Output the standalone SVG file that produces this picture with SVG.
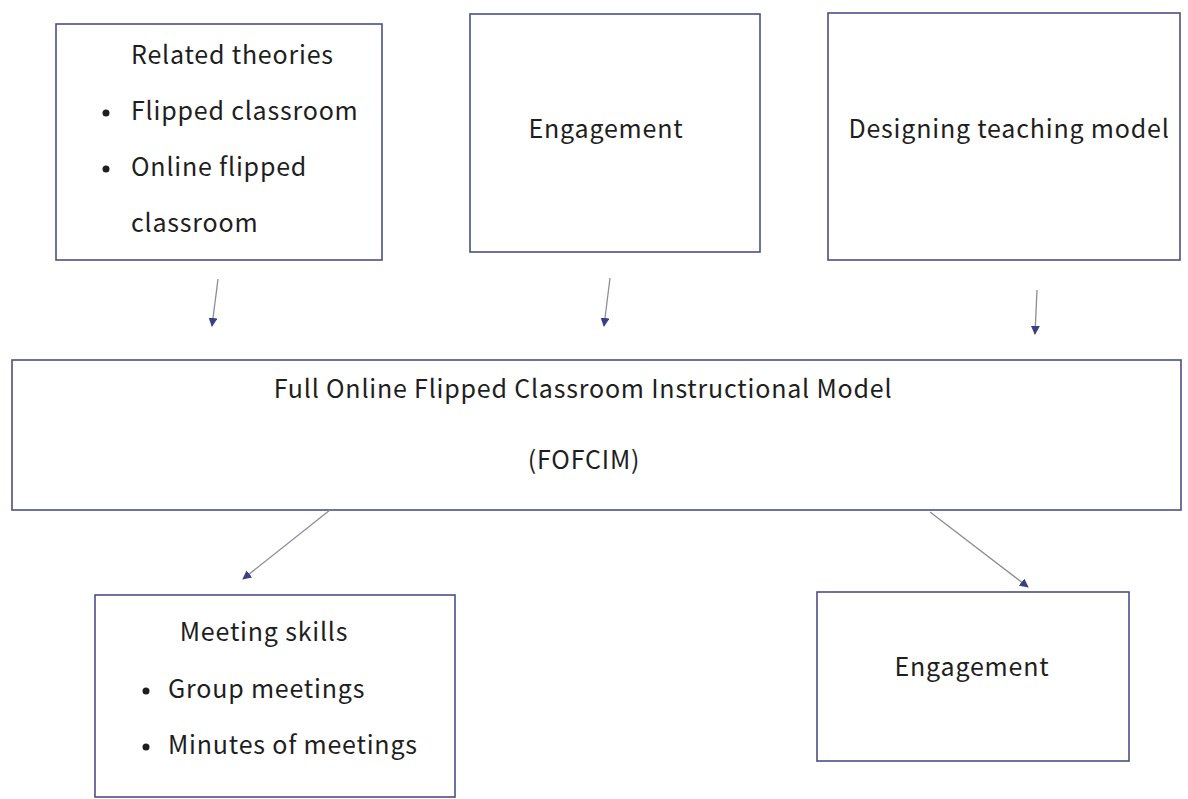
<svg xmlns="http://www.w3.org/2000/svg" width="1188" height="799" viewBox="0 0 1188 799">
  <style>
    .box { fill: #ffffff; stroke: #4b4f86; stroke-width: 1.6; }
    .t { font-family: "Noto Sans CJK JP", "Inter", sans-serif; font-size: 25px; letter-spacing: 0.8px; fill: #1e1e1e; }
    .mid { text-anchor: middle; }
    .link { stroke: #8a8c9c; stroke-width: 1.3; fill: none; marker-end: url(#head); }
  </style>
  <defs>
    <marker id="head" viewBox="0 0 10 10" refX="9" refY="5" markerWidth="9" markerHeight="9" markerUnits="userSpaceOnUse" orient="auto">
      <path d="M0,0 L10,5 L0,10 Z" fill="#3c3f86"/>
    </marker>
  </defs>
  <rect width="1188" height="799" fill="#ffffff"/>

  <g id="related-theories">
    <rect class="box" x="56" y="24" width="326" height="236"/>
    <text class="t" x="131" y="64">Related theories</text>
    <circle cx="106" cy="113" r="3.5" fill="#1e1e1e"/>
    <text class="t" x="131" y="120">Flipped classroom</text>
    <circle cx="106" cy="169" r="3.5" fill="#1e1e1e"/>
    <text class="t" x="131" y="176">Online flipped</text>
    <text class="t" x="131" y="232">classroom</text>
  </g>

  <g id="engagement-top">
    <rect class="box" x="470" y="14" width="290" height="238"/>
    <text class="t mid" x="606" y="138">Engagement</text>
  </g>

  <g id="designing-model">
    <rect class="box" x="828" y="13" width="352" height="247"/>
    <text class="t mid" x="1009" y="138">Designing teaching model</text>
  </g>

  <g id="fofcim">
    <rect class="box" x="12" y="360" width="1169" height="150"/>
    <text class="t mid" x="583" y="398">Full Online Flipped Classroom Instructional Model</text>
    <text class="t mid" x="584" y="469">(FOFCIM)</text>
  </g>

  <g id="meeting-skills">
    <rect class="box" x="95" y="595" width="360" height="202"/>
    <text class="t mid" x="264" y="641">Meeting skills</text>
    <circle cx="146" cy="691" r="3.5" fill="#1e1e1e"/>
    <text class="t" x="168" y="698">Group meetings</text>
    <circle cx="146" cy="747" r="3.5" fill="#1e1e1e"/>
    <text class="t" x="168" y="754">Minutes of meetings</text>
  </g>

  <g id="engagement-bottom">
    <rect class="box" x="817" y="592" width="312" height="169"/>
    <text class="t mid" x="972" y="676">Engagement</text>
  </g>

  <g id="connectors">
    <line class="link" x1="218" y1="279" x2="212" y2="326"/>
    <line class="link" x1="610" y1="278" x2="604" y2="326"/>
    <line class="link" x1="1037" y1="290" x2="1035" y2="334"/>
    <line class="link" x1="330" y1="510" x2="243" y2="579"/>
    <line class="link" x1="930" y1="512" x2="1028" y2="587"/>
  </g>
</svg>
